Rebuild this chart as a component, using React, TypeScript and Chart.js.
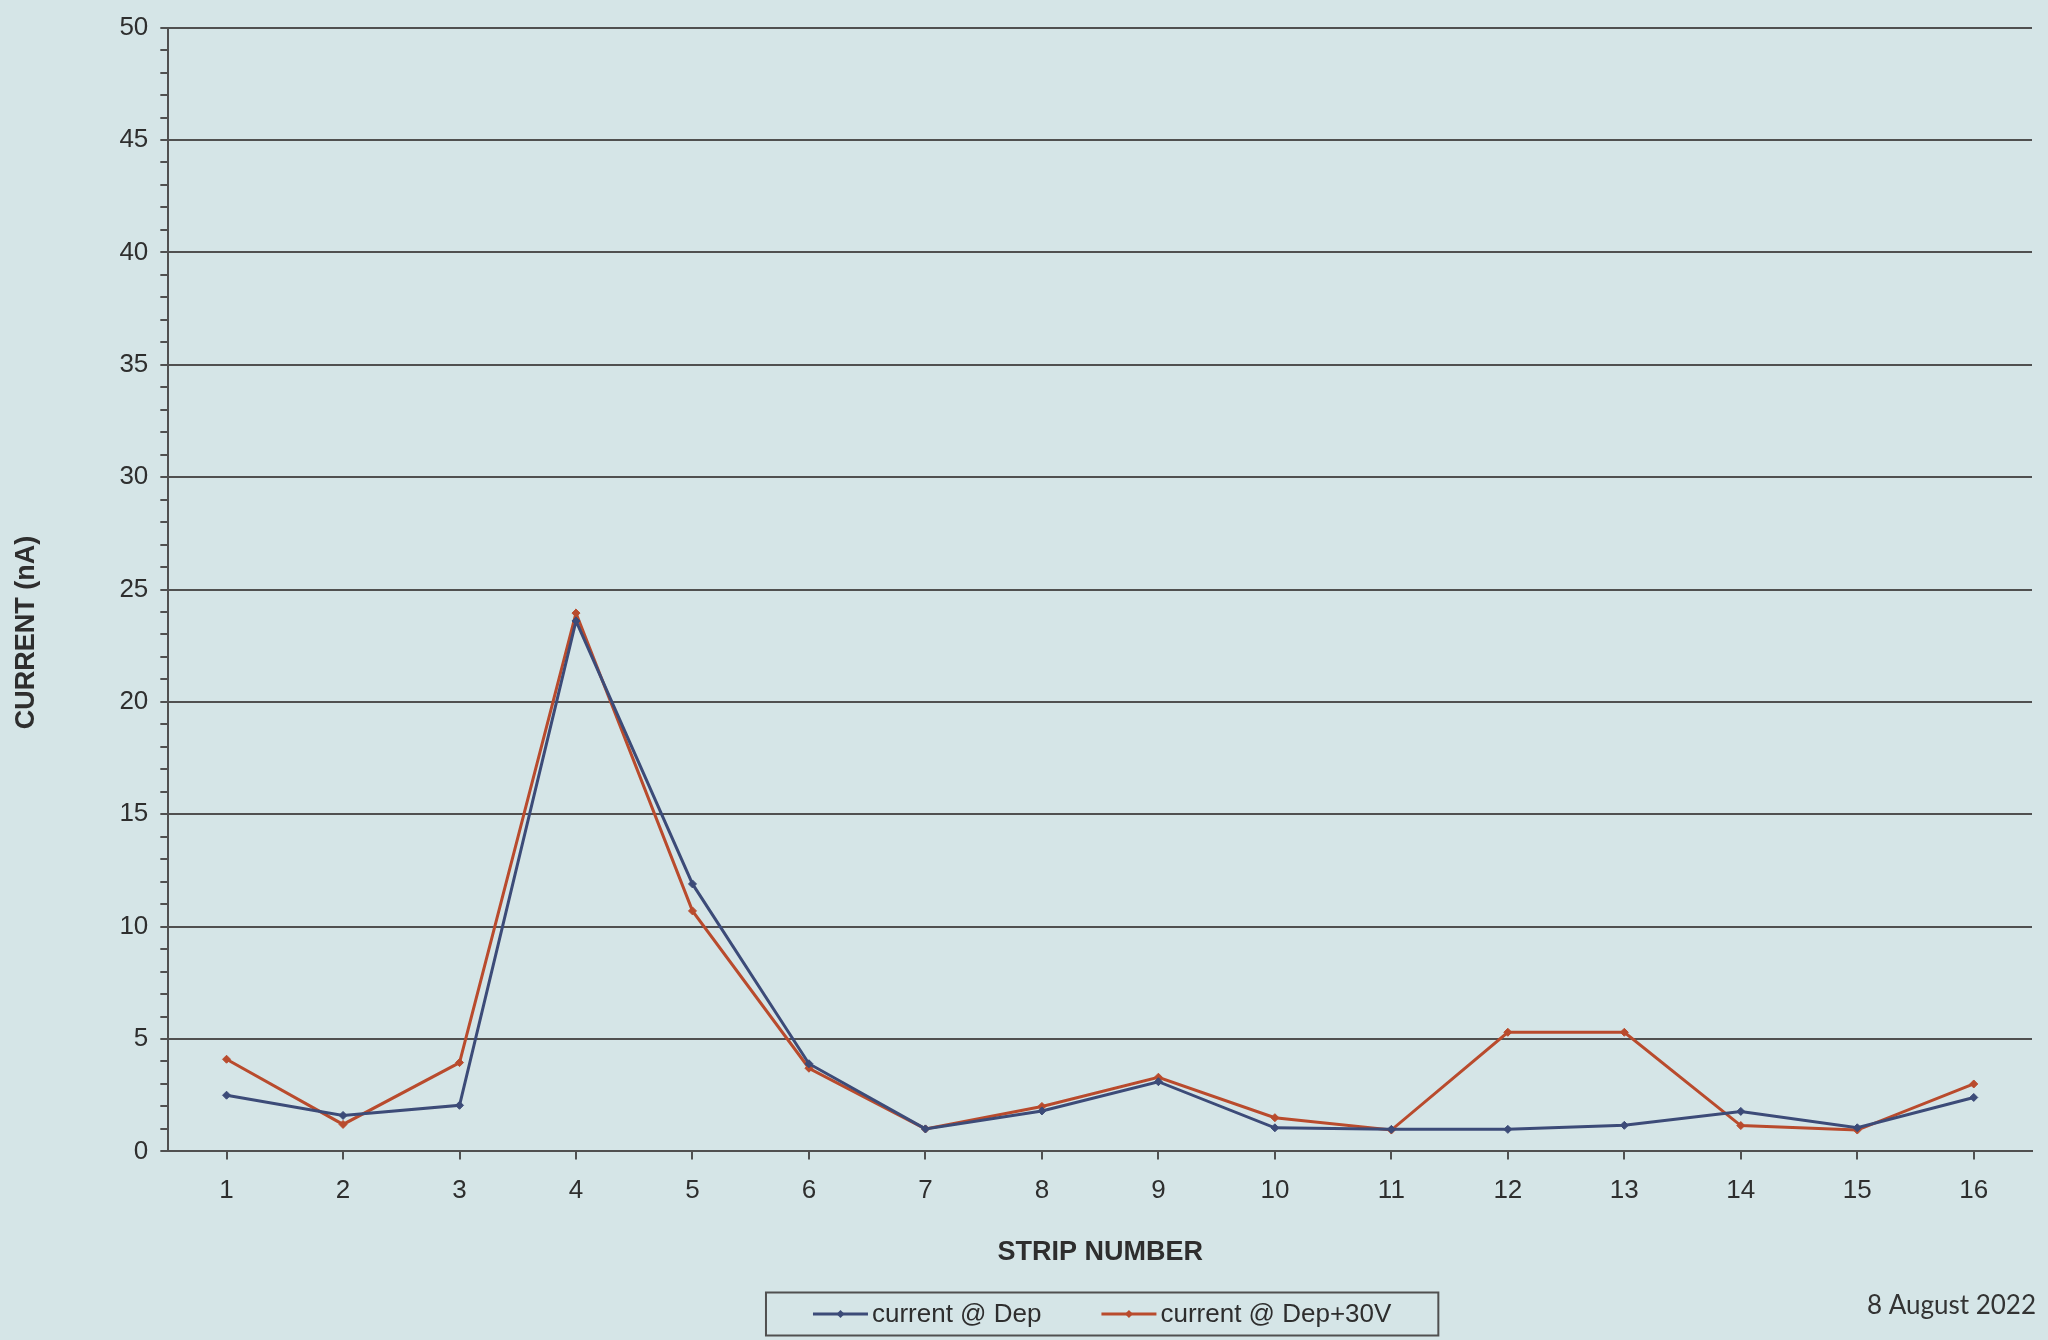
import { useEffect, useRef } from "react";
import { Chart, registerables } from "chart.js";

Chart.register(...registerables);

// ---- data ----
const strips = ["1", "2", "3", "4", "5", "6", "7", "8", "9", "10", "11", "12", "13", "14", "15", "16"];
const currentDep = [2.5, 1.6, 2.05, 23.6, 11.9, 3.9, 1.0, 1.8, 3.1, 1.05, 0.98, 0.98, 1.16, 1.78, 1.05, 2.4];
const currentDep30 = [4.1, 1.2, 3.95, 23.95, 10.7, 3.7, 1.0, 2.0, 3.3, 1.5, 0.95, 5.3, 5.3, 1.15, 0.95, 3.0];
const seriesNames = ["current @ Dep", "current @ Dep+30V"];
const seriesColors = ["#3c4b78", "#b94b2d"];
const yMin = 0;
const yMax = 50;
const yMajorStep = 5;
const xTitle = "STRIP NUMBER";
const yTitle = "CURRENT (nA)";
const dateText = "8 August 2022";

const BG = "#d5e5e7";
const GRID = "#505050";
const TEXT = "#2e2e2e";
const FONT = "'Liberation Sans', Arial, sans-serif";
const TITLE_FONT = { family: FONT, size: 27, weight: "bold" as const };

const overlayPlugin = {
  id: "overlay",
  afterDraw(chart: any) {
    const { ctx, chartArea } = chart;
    ctx.save();

    // y axis title (placed a little below the axis centre, as in the original)
    const ys = chart.scales.y;
    ctx.font = `bold ${TITLE_FONT.size}px ${FONT}`;
    ctx.fillStyle = TEXT;
    ctx.textAlign = "center";
    ctx.textBaseline = "middle";
    ctx.translate(ys.left + TITLE_FONT.size * 0.6, (chartArea.top + chartArea.bottom) / 2 + 43);
    ctx.rotate(-Math.PI / 2);
    ctx.fillText(yTitle, 0, 0);
    ctx.setTransform(1, 0, 0, 1, 0, 0);
    const dpr = chart.currentDevicePixelRatio || 1;
    ctx.scale(dpr, dpr);

    // legend
    ctx.font = `26px ${FONT}`;
    const lineLen = 55;
    const gapText = 4;
    const gapItem = 60;
    const padX = 47;
    const boxH = 43;
    const widths = seriesNames.map((n) => ctx.measureText(n).width);
    const itemsW =
      widths.reduce((s: number, w: number) => s + lineLen + gapText + w, 0) + gapItem * (seriesNames.length - 1);
    const boxW = itemsW + padX * 2;
    const cx = (chartArea.left + chartArea.right) / 2 + 2;
    const left = cx - boxW / 2;
    const cy = chart.height - 26;
    ctx.strokeStyle = GRID;
    ctx.lineWidth = 2;
    ctx.strokeRect(left, cy - boxH / 2, boxW, boxH);
    let x = left + padX;
    seriesNames.forEach((n, i) => {
      ctx.strokeStyle = seriesColors[i];
      ctx.lineWidth = 3;
      ctx.beginPath();
      ctx.moveTo(x, cy);
      ctx.lineTo(x + lineLen, cy);
      ctx.stroke();
      const mx = x + lineLen / 2;
      ctx.fillStyle = seriesColors[i];
      ctx.beginPath();
      ctx.moveTo(mx, cy - 4);
      ctx.lineTo(mx + 4, cy);
      ctx.lineTo(mx, cy + 4);
      ctx.lineTo(mx - 4, cy);
      ctx.closePath();
      ctx.fill();
      ctx.fillStyle = TEXT;
      ctx.textBaseline = "middle";
      ctx.textAlign = "left";
      ctx.fillText(n, x + lineLen + gapText, cy + 1);
      x += lineLen + gapText + widths[i] + gapItem;
    });

    // date
    ctx.font = "26px Lato, 'Open Sans', sans-serif";
    ctx.textAlign = "right";
    ctx.textBaseline = "middle";
    ctx.fillStyle = "#333333";
    ctx.fillText(dateText, chart.width - 12, chart.height - 34);
    ctx.restore();
  },
};

export default function App() {
  const ref = useRef<HTMLCanvasElement | null>(null);

  useEffect(() => {
    if (!ref.current) return;
    const chart = new Chart(ref.current, {
      type: "line",
      data: {
        labels: strips,
        datasets: [
          {
            label: seriesNames[0],
            data: currentDep,
            borderColor: seriesColors[0],
            backgroundColor: seriesColors[0],
            borderWidth: 3,
            pointStyle: "rectRot",
            pointRadius: 4,
            pointBorderWidth: 1,
            tension: 0,
          },
          {
            label: seriesNames[1],
            data: currentDep30,
            borderColor: seriesColors[1],
            backgroundColor: seriesColors[1],
            borderWidth: 3,
            pointStyle: "rectRot",
            pointRadius: 4,
            pointBorderWidth: 1,
            tension: 0,
          },
        ],
      },
      options: {
        animation: false,
        responsive: true,
        maintainAspectRatio: false,
        layout: { padding: { left: 10, right: 16, top: 16, bottom: 71 } },
        plugins: {
          legend: { display: false },
          tooltip: { enabled: false },
        },
        scales: {
          x: {
            type: "category",
            offset: true,
            ticks: {
              font: { family: FONT, size: 26 },
              color: TEXT,
              padding: 16,
              autoSkip: false,
              maxRotation: 0,
            },
            grid: {
              drawOnChartArea: false,
              drawTicks: true,
              tickLength: 8,
              tickColor: GRID,
              lineWidth: 2,
              offset: false,
            },
            border: { display: true, color: GRID, width: 2 },
            title: {
              display: true,
              text: xTitle,
              font: TITLE_FONT,
              color: TEXT,
              padding: { top: 14, bottom: 0 },
            },
          },
          y: {
            type: "linear",
            min: yMin,
            max: yMax,
            ticks: {
              stepSize: 1,
              autoSkip: false,
              font: { family: FONT, size: 26 },
              color: TEXT,
              padding: 12,
              callback: (v: any) => (Number(v) % yMajorStep === 0 ? String(v) : ""),
            },
            grid: {
              color: (c: any) => (c.tick && c.tick.value % yMajorStep === 0 ? GRID : "rgba(0,0,0,0)"),
              tickColor: GRID,
              tickLength: 8,
              lineWidth: 2,
            },
            border: { display: true, color: GRID, width: 2 },
            title: {
              // space is reserved here; the text itself is drawn by the overlay plugin
              display: true,
              text: yTitle,
              font: TITLE_FONT,
              color: "rgba(0,0,0,0)",
              padding: { top: 0, bottom: 65 },
            },
          },
        },
      },
      plugins: [overlayPlugin],
    });
    return () => chart.destroy();
  }, []);

  return (
    <div style={{ position: "fixed", left: 0, top: 0, width: 2048, height: 1340, background: BG }}>
      <canvas ref={ref} />
    </div>
  );
}
